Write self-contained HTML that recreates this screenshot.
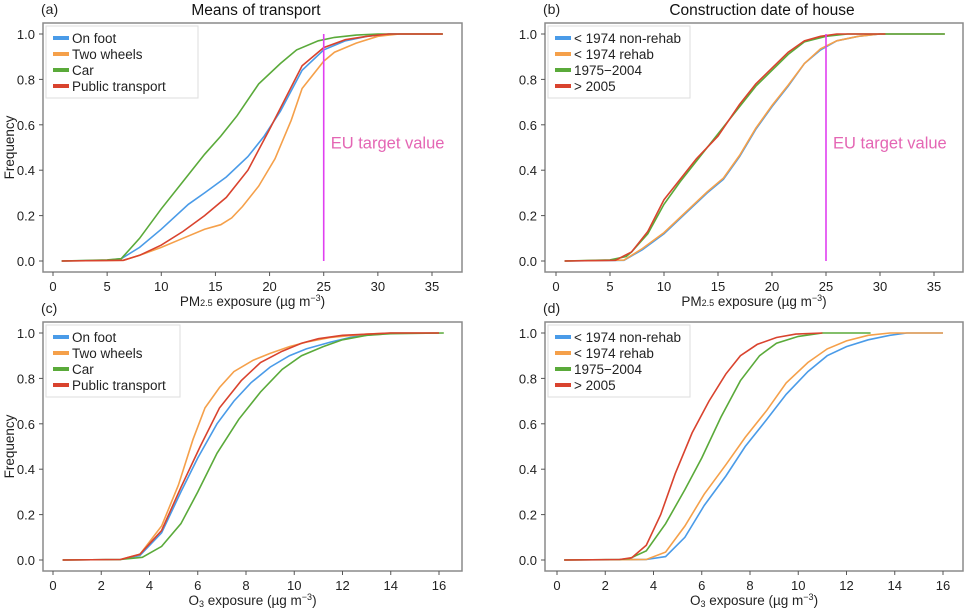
<!DOCTYPE html>
<html><head><meta charset="utf-8"><style>
body{margin:0;background:#fff;}
svg{display:block;font-family:"Liberation Sans",Arial,sans-serif;}
</style></head><body>
<svg id="chart" width="965" height="609" viewBox="0 0 965 609"></svg>
<script>
// ---- data ----
const seriesNamesA = ["On foot","Two wheels","Car","Public transport"];
const seriesNamesB = ["< 1974 non-rehab","< 1974 rehab","1975\u22122004","> 2005"];
const colors = ["#4a9be8","#f5a04a","#5aaa3a","#d9432e"];
// panel a (PM2.5, means of transport)
const aFootX=[0.8,5,6.3,8,10,12.5,14,16,18,19.5,21,23,25,27,29,31,36];
const aFootY=[0,0.003,0.01,0.06,0.14,0.25,0.30,0.37,0.46,0.55,0.66,0.84,0.93,0.97,0.99,1,1];
const aTwoX=[0.8,6.5,8,10,12,14,15.5,16.5,17.5,19,20.5,22,23,25,26,28,30,32,36];
const aTwoY=[0,0.003,0.025,0.06,0.1,0.14,0.16,0.19,0.24,0.33,0.45,0.62,0.76,0.88,0.92,0.96,0.99,1,1];
const aCarX=[0.8,5,6.3,8,10,12,14,15.5,17,19,21,22.5,24.5,26,28,30,36];
const aCarY=[0,0.005,0.01,0.1,0.23,0.35,0.47,0.55,0.64,0.78,0.87,0.93,0.97,0.985,0.995,1,1];
const aPubX=[0.8,6.5,8,10,12,14,16,18,20,21.5,23,25,27,29,31,36];
const aPubY=[0,0.003,0.025,0.07,0.13,0.20,0.28,0.40,0.58,0.72,0.86,0.94,0.975,0.99,1,1];
// panel b (PM2.5, construction date)
const bNonX=[0.8,6.3,8,10,12,14,15.5,17,18.5,20,21.5,23,24.5,26,28,30,36];
const bNonY=[0,0.003,0.05,0.12,0.21,0.30,0.36,0.46,0.58,0.68,0.77,0.87,0.93,0.97,0.99,1,1];
const bRehX=[0.8,6.3,8,10,12,14,15.5,17,18.5,20,21.5,23,24.5,26,28,30,36];
const bRehY=[0,0.004,0.055,0.125,0.215,0.305,0.365,0.465,0.585,0.685,0.775,0.87,0.935,0.97,0.99,1,1];
const bMidX=[0.8,5,6.5,7,8.5,10,11.5,13,15,17,18.5,20,21.5,23,25,27,36];
const bMidY=[0,0.005,0.02,0.04,0.12,0.25,0.35,0.44,0.56,0.68,0.77,0.84,0.91,0.965,0.99,1,1];
const bNewX=[0.8,5.5,7,8.5,10,11.5,13,15,17,18.5,20,21.5,23,24.5,26,30.5];
const bNewY=[0,0.003,0.04,0.13,0.27,0.36,0.45,0.55,0.69,0.78,0.85,0.92,0.97,0.99,1,1];
// panel c (O3, means of transport)
const cFootX=[0.4,2.8,3.6,4.5,5.3,6,6.8,7.5,8.2,9,9.8,10.5,11.5,12.5,14,16];
const cFootY=[0,0.002,0.02,0.12,0.3,0.45,0.6,0.7,0.78,0.85,0.9,0.93,0.96,0.985,1,1];
const cTwoX=[0.4,2.8,3.6,4.5,5.2,5.8,6.3,6.9,7.5,8.3,9,9.8,10.5,11.5,13,14,16];
const cTwoY=[0,0.002,0.025,0.15,0.33,0.53,0.67,0.76,0.83,0.88,0.91,0.94,0.96,0.98,0.995,1,1];
const cCarX=[0.4,2.8,3.7,4.5,5.3,6,6.8,7.7,8.6,9.5,10.3,11.2,12,13,14,16.2];
const cCarY=[0,0.002,0.012,0.06,0.16,0.3,0.47,0.62,0.74,0.84,0.9,0.94,0.97,0.99,0.997,1];
const cPubX=[0.4,2.8,3.6,4.5,5.3,6.1,6.9,7.8,8.6,9.5,10.3,11,12,14,16];
const cPubY=[0,0.002,0.025,0.13,0.32,0.5,0.67,0.79,0.87,0.92,0.955,0.975,0.99,1,1];
// panel d (O3, construction date)
const dNonX=[0.3,3.7,4.5,5.3,6.1,7,7.8,8.7,9.5,10.4,11.2,12,12.9,13.8,14.5,16];
const dNonY=[0,0.002,0.015,0.1,0.24,0.37,0.5,0.62,0.73,0.83,0.9,0.94,0.97,0.99,1,1];
const dRehX=[0.3,3.7,4.5,5.3,6.1,7,7.8,8.7,9.5,10.4,11.2,12,12.9,13.8,16];
const dRehY=[0,0.002,0.035,0.15,0.29,0.42,0.54,0.66,0.78,0.87,0.93,0.965,0.99,1,1];
const dMidX=[0.3,2.6,3,3.7,4.5,5.3,6,6.8,7.6,8.4,9.1,10,11,13];
const dMidY=[0,0.002,0.006,0.04,0.16,0.31,0.45,0.63,0.79,0.9,0.955,0.985,1,1];
const dNewX=[0.3,2.6,3.1,3.7,4.3,4.9,5.6,6.3,7,7.6,8.3,9.1,9.9,11];
const dNewY=[0,0.002,0.01,0.065,0.2,0.38,0.56,0.7,0.82,0.9,0.95,0.98,0.995,1];
const pmTicks=[0,5,10,15,20,25,30,35];
const o3Ticks=[0,2,4,6,8,10,12,14,16];
const yTicks=[0,0.2,0.4,0.6,0.8,1.0];
const euTarget=25;

const NS="http://www.w3.org/2000/svg";
const svg=document.getElementById('chart');
function el(tag,attrs,parent,text){const e=document.createElementNS(NS,tag);for(const k in attrs)e.setAttribute(k,attrs[k]);if(text!==undefined)e.textContent=text;(parent||svg).appendChild(e);return e;}

function panel(cfg){
  const g=el('g',{});
  
  
  const sx=v=>cfg.x0+(v-cfg.xmin)*(cfg.x1-cfg.x0)/(cfg.xmax-cfg.xmin);
  const sy=v=>cfg.y0+(cfg.y1-cfg.y0)*v;
  const frame=el('rect',{x:cfg.bx,y:cfg.by,width:cfg.bw,height:cfg.bh,fill:'none',stroke:'#8a8a8a','stroke-width':1.5},g);
  
  
  cfg.xt.forEach(t=>{
    el('line',{x1:sx(t),x2:sx(t),y1:cfg.by+cfg.bh,y2:cfg.by+cfg.bh+4,stroke:'#555'},g);
    const tl=el('text',{x:sx(t),y:cfg.by+cfg.bh+19,'font-size':13,'text-anchor':'middle',fill:'#222'},g,String(t));
    
    
  });
  yTicks.forEach(t=>{
    el('line',{x1:cfg.bx-4,x2:cfg.bx,y1:sy(t),y2:sy(t),stroke:'#555'},g);
    const tl=el('text',{x:cfg.bx-8,y:sy(t)+5,'font-size':13,'text-anchor':'end',fill:'#222'},g,t.toFixed(1));
    
    
  });
  cfg.series.forEach((s,i)=>{
    const d=s.x.map((v,j)=>(j?'L':'M')+sx(v).toFixed(1)+','+sy(s.y[j]).toFixed(1)).join('');
    const p=el('path',{d:d,fill:'none',stroke:colors[i],'stroke-width':1.6},g);
    
    
  });
  if(cfg.eu){
    const l=el('line',{x1:sx(euTarget),x2:sx(euTarget),y1:sy(0),y2:sy(1),stroke:'#e040f0','stroke-width':1.6},g);
    
    
    const t=el('text',{x:sx(euTarget)+7,y:sy(0.495),'font-size':16.5,fill:'#e466b4'},g,'EU target value');
    
    
  }
  // legend
  const lg=el('g',{},g);
  
  
  el('rect',{x:cfg.bx+3,y:cfg.by+3,width:cfg.lw,height:72,fill:'#fff',stroke:'#ddd'},lg);
  cfg.names.forEach((n,i)=>{
    const yy=cfg.by+15+i*16;
    const sw=el('rect',{x:cfg.bx+10,y:yy-2,width:16,height:4,fill:colors[i]},lg);
    
    
    const tx=el('text',{x:cfg.bx+29,y:yy+5,'font-size':13.5,fill:'#222'},lg,n);
    
    
  });
  // x label
  const xl=el('text',{x:(cfg.bx+cfg.bx+cfg.bw)/2,y:cfg.by+cfg.bh+34,'font-size':13.5,'text-anchor':'middle',fill:'#222'},g);
  
  
  if(cfg.pm){el('tspan',{},xl,'PM');el('tspan',{'font-size':9},xl,'2.5');el('tspan',{},xl,' exposure (\u00b5g m');el('tspan',{'font-size':9,dy:-5},xl,'\u22123');el('tspan',{dy:5},xl,')');}
  else{el('tspan',{},xl,'O');el('tspan',{'font-size':9,dy:2},xl,'3');el('tspan',{dy:-2},xl,' exposure (\u00b5g m');el('tspan',{'font-size':9,dy:-5},xl,'\u22123');el('tspan',{dy:5},xl,')');}
  if(cfg.ylabel){
    const yc=cfg.by+cfg.bh/2;
    const yl=el('text',{x:14,y:yc,'font-size':13.5,'text-anchor':'middle',fill:'#222',transform:'rotate(-90 14 '+yc+')'},g,'Frequency');
    
    
  }
  const pl=el('text',{x:cfg.bx-2,y:cfg.by-9,'font-size':14,fill:'#222'},g,'('+cfg.id+')');
  
  
  if(cfg.title){
    const tt=el('text',{x:cfg.tx,y:15,'font-size':15.5,'text-anchor':'middle',fill:'#111'},g,cfg.title);
    
    
  }
}

panel({id:'a',bx:43,by:23,bw:419,bh:249,x0:53,x1:432,xmin:0,xmax:35,y0:261,y1:34,xt:pmTicks,pm:true,eu:true,ylabel:true,lw:152,names:seriesNamesA,title:'Means of transport',tx:256,
  series:[{x:aFootX,y:aFootY},{x:aTwoX,y:aTwoY},{x:aCarX,y:aCarY},{x:aPubX,y:aPubY}]});
panel({id:'b',bx:545,by:23,bw:418,bh:249,x0:556,x1:934,xmin:0,xmax:35,y0:261,y1:34,xt:pmTicks,pm:true,eu:true,ylabel:false,lw:142,names:seriesNamesB,title:'Construction date of house',tx:762,
  series:[{x:bNonX,y:bNonY},{x:bRehX,y:bRehY},{x:bMidX,y:bMidY},{x:bNewX,y:bNewY}]});
panel({id:'c',bx:43,by:322,bw:419,bh:249,x0:53,x1:439,xmin:0,xmax:16,y0:560,y1:333,xt:o3Ticks,pm:false,eu:false,ylabel:true,lw:134,names:seriesNamesA,
  series:[{x:cFootX,y:cFootY},{x:cTwoX,y:cTwoY},{x:cCarX,y:cCarY},{x:cPubX,y:cPubY}]});
panel({id:'d',bx:545,by:322,bw:418,bh:249,x0:557,x1:943,xmin:0,xmax:16,y0:560,y1:333,xt:o3Ticks,pm:false,eu:false,ylabel:false,lw:142,names:seriesNamesB,
  series:[{x:dNonX,y:dNonY},{x:dRehX,y:dRehY},{x:dMidX,y:dMidY},{x:dNewX,y:dNewY}]});
</script>
</body></html>
